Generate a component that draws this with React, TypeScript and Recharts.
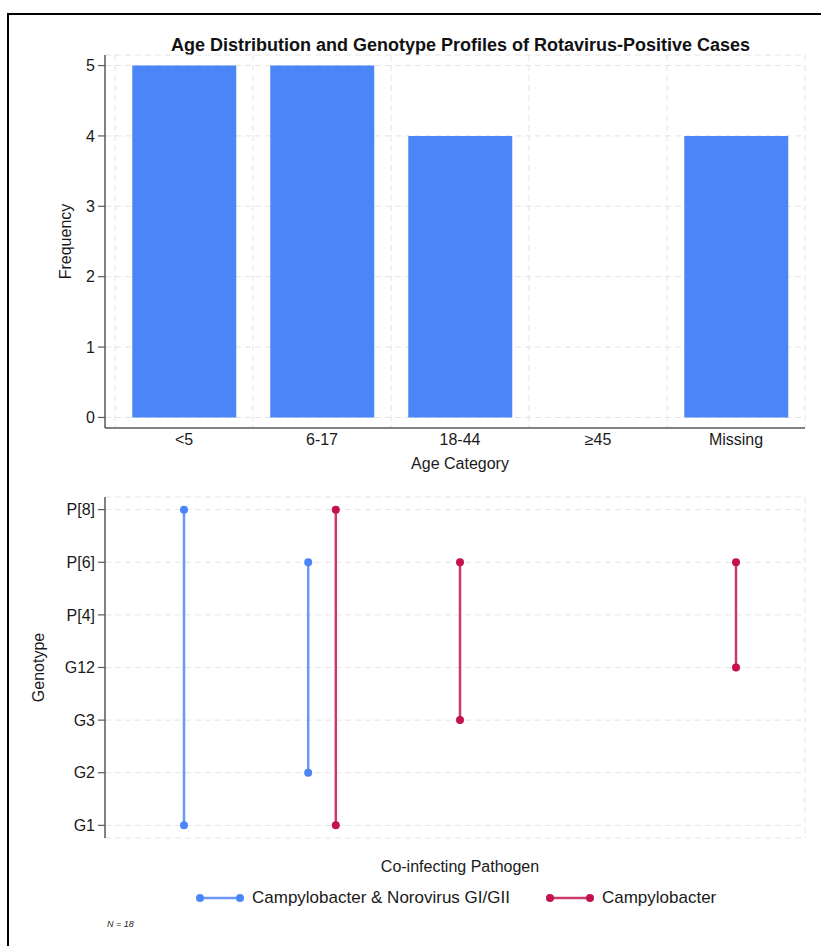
import React from "react";
import { BarChart, Bar, ComposedChart, Line, XAxis, YAxis, CartesianGrid } from "recharts";

const ageCategories = ["<5", "6-17", "18-44", "≥45", "Missing"];
const frequencies = [5, 5, 4, 0, 4];
const frequencyTicks = [0, 1, 2, 3, 4, 5];

const genotypes = ["G1", "G2", "G3", "G12", "P[4]", "P[6]", "P[8]"];
const pathogens = ["Campylobacter & Norovirus GI/GII", "Campylobacter"];

// [age category, lowest genotype, highest genotype]
const norovirusSpans = [
  ["<5", "G1", "P[8]"],
  ["6-17", "G2", "P[6]"],
];
const campylobacterSpans = [
  ["6-17", "G1", "P[8]"],
  ["18-44", "G3", "P[6]"],
  ["Missing", "G12", "P[6]"],
];

const FONT = "'Liberation Sans', Arial, Helvetica, sans-serif";
const BLUE = "#4a86f6";
const BLUE_LINE = "#6b98f6";
const RED = "#c3124f";
const RED_LINE = "#c93a6b";
const GRID = "#e4e4e4";
const AXIS = "#5a5a5a";

const barData = ageCategories.map((age, i) => ({ age, freq: frequencies[i], pos: i + 1 }));
const gridTicks = [0.5, ...ageCategories.map((_, i) => i + 1.5)];
const genotypeTicks = genotypes.map((_, i) => i);

const spanSets = [norovirusSpans, campylobacterSpans];
const shared = ageCategories.filter((c) => spanSets.every((s) => s.some((r) => r[0] === c)));

const toLineData = (spans: string[][], side: number) =>
  spans.flatMap(([cat, lo, hi]) => {
    const x = ageCategories.indexOf(cat) + 1 + (shared.includes(cat) ? side * 0.1 : 0);
    return [
      { x, y: genotypes.indexOf(lo) },
      { x, y: genotypes.indexOf(hi) },
      { x, y: null },
    ];
  });

const norovirusLine = toLineData(norovirusSpans, -1);
const campylobacterLine = toLineData(campylobacterSpans, 1);

const tickStyle = { fill: "#1a1a1a", fontSize: 16, fontFamily: FONT };

const yTitle = (text: string, x: number) => (p: any) => {
  const vb = p.viewBox;
  const cy = vb.y + vb.height / 2;
  return (
    <text
      x={x}
      y={cy}
      transform={`rotate(-90 ${x} ${cy})`}
      textAnchor="middle"
      dominantBaseline="central"
      fill="#1a1a1a"
      fontSize={16}
      fontFamily={FONT}
    >
      {text}
    </text>
  );
};

const xTitle = (text: string, dy: number) => (p: any) => {
  const vb = p.viewBox;
  return (
    <text
      x={vb.x + (vb.width + 10) / 2}
      y={vb.y + dy}
      textAnchor="middle"
      fill="#1a1a1a"
      fontSize={16}
      fontFamily={FONT}
    >
      {text}
    </text>
  );
};

const LegendIcon = ({ dot, line }: { dot: string; line: string }) => (
  <svg width={48} height={12} style={{ display: "block" }}>
    <line x1={4} y1={6} x2={44} y2={6} stroke={line} strokeWidth={2.5} />
    <circle cx={4} cy={6} r={4} fill={dot} />
    <circle cx={44} cy={6} r={4} fill={dot} />
  </svg>
);

const legendColors = [
  { dot: BLUE, line: BLUE_LINE },
  { dot: RED, line: RED_LINE },
];

export default function App() {
  return (
    <div style={{ position: "absolute", left: 0, top: 0, width: 821, height: 946, fontFamily: FONT }}>
      <div
        style={{
          position: "absolute",
          left: 7,
          top: 13,
          width: 812,
          height: 931,
          borderLeft: "2.5px solid #000",
          borderTop: "2.5px solid #000",
        }}
      />
      <div
        style={{
          position: "absolute",
          left: 0,
          top: 36,
          width: 921,
          textAlign: "center",
          fontSize: 18,
          lineHeight: "18px",
          fontWeight: "bold",
          color: "#111",
        }}
      >
        Age Distribution and Genotype Profiles of Rotavirus-Positive Cases
      </div>

      <div style={{ position: "absolute", left: 0, top: 0 }}>
        <BarChart
          width={821}
          height={480}
          data={barData}
          margin={{ top: 55, right: 16, bottom: 7, left: 0 }}
          barCategoryGap="12.5%"
        >
          <CartesianGrid xAxisId="grid" stroke={GRID} strokeDasharray="6 4" />
          <XAxis
            dataKey="age"
            padding={{ left: 10, right: 0 }}
            height={45}
            axisLine={{ stroke: AXIS, strokeWidth: 1.5 }}
            tickLine={false}
            tickSize={6}
            tickMargin={0}
            tick={tickStyle}
            interval={0}
            label={{ content: xTitle("Age Category", 41) }}
          />
          <XAxis
            xAxisId="grid"
            type="number"
            dataKey="pos"
            domain={[0.5, 5.5]}
            ticks={gridTicks}
            padding={{ left: 10, right: 0 }}
            allowDataOverflow
            hide
          />
          <YAxis
            type="number"
            domain={[-0.15, 5.15]}
            ticks={frequencyTicks}
            allowDataOverflow
            width={105}
            axisLine={{ stroke: AXIS, strokeWidth: 1.5 }}
            tickLine={{ stroke: AXIS, strokeWidth: 1.2 }}
            tickSize={7}
            tickMargin={3}
            tick={tickStyle}
            label={{ content: yTitle("Frequency", 65) }}
          />
          <Bar dataKey="freq" fill={BLUE} isAnimationActive={false} />
        </BarChart>
      </div>

      <div style={{ position: "absolute", left: 0, top: 480 }}>
        <ComposedChart width={821} height={466} margin={{ top: 17, right: 16, bottom: 63, left: 0 }}>
          <CartesianGrid stroke={GRID} strokeDasharray="6 4" />
          <XAxis
            type="number"
            dataKey="x"
            domain={[0.5, 5.5]}
            ticks={gridTicks}
            padding={{ left: 10, right: 0 }}
            allowDataOverflow
            height={45}
            axisLine={false}
            tickLine={false}
            tick={false}
            label={{ content: xTitle("Co-infecting Pathogen", 34) }}
          />
          <YAxis
            type="number"
            dataKey="y"
            domain={[-0.24, 6.24]}
            ticks={genotypeTicks}
            tickFormatter={(v: number) => genotypes[v]}
            allowDataOverflow
            width={105}
            axisLine={{ stroke: AXIS, strokeWidth: 1.5 }}
            tickLine={{ stroke: AXIS, strokeWidth: 1.2 }}
            tickSize={7}
            tickMargin={3}
            tick={tickStyle}
            label={{ content: yTitle("Genotype", 38) }}
          />
          <Line
            data={norovirusLine}
            dataKey="y"
            name={pathogens[0]}
            stroke={BLUE_LINE}
            strokeWidth={2.5}
            dot={{ r: 4, fill: BLUE, stroke: BLUE, strokeWidth: 0 }}
            activeDot={false}
            connectNulls={false}
            isAnimationActive={false}
          />
          <Line
            data={campylobacterLine}
            dataKey="y"
            name={pathogens[1]}
            stroke={RED_LINE}
            strokeWidth={2.5}
            dot={{ r: 4, fill: RED, stroke: RED, strokeWidth: 0 }}
            activeDot={false}
            connectNulls={false}
            isAnimationActive={false}
          />
        </ComposedChart>
      </div>

      <div
        style={{
          position: "absolute",
          left: 196,
          top: 888,
          display: "flex",
          alignItems: "center",
          whiteSpace: "nowrap",
          fontSize: 17,
          lineHeight: "20px",
          color: "#1a1a1a",
        }}
      >
        {pathogens.map((name, i) => (
          <div key={name} style={{ display: "flex", alignItems: "center", marginRight: i === 0 ? 36 : 0 }}>
            <LegendIcon dot={legendColors[i].dot} line={legendColors[i].line} />
            <span style={{ marginLeft: 8 }}>{name}</span>
          </div>
        ))}
      </div>

      <div
        style={{
          position: "absolute",
          left: 107,
          top: 919,
          fontSize: 9,
          fontStyle: "italic",
          color: "#222",
        }}
      >
        N = 18
      </div>
    </div>
  );
}
